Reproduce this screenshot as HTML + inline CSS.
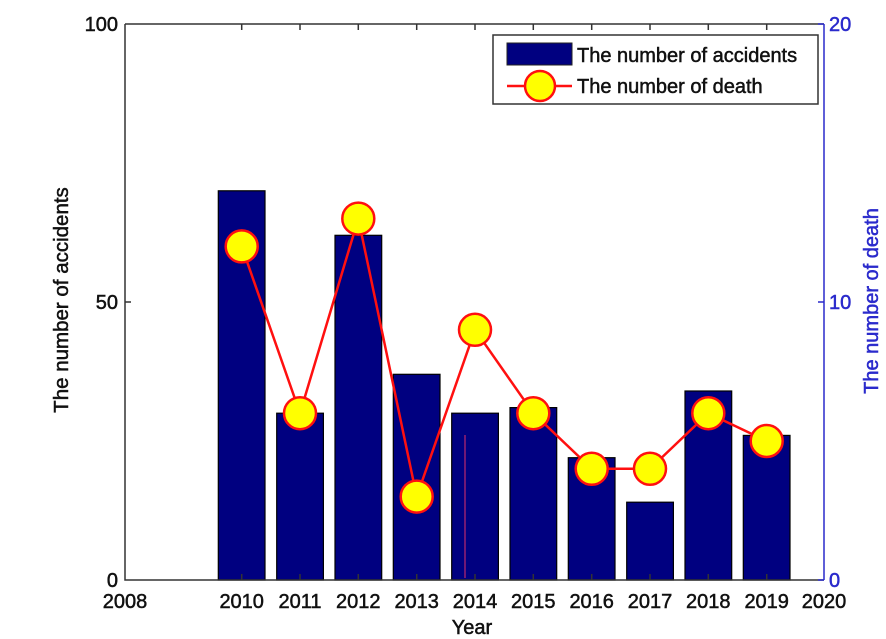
<!DOCTYPE html>
<html><head><meta charset="utf-8"><style>body{margin:0;background:#fff}svg{display:block}text{font-family:"Liberation Sans",Arial,sans-serif;stroke-width:0.5}</style></head>
<body>
<svg width="886" height="639" xmlns="http://www.w3.org/2000/svg">
<rect width="886" height="639" fill="#fff"/>
<g fill="#000080" stroke="#000" stroke-width="1.2">
<rect x="218.3" y="190.8" width="46.7" height="389.2"/>
<rect x="276.7" y="413.2" width="46.7" height="166.8"/>
<rect x="335" y="235.3" width="46.7" height="344.7"/>
<rect x="393.3" y="374.3" width="46.7" height="205.7"/>
<rect x="451.7" y="413.2" width="46.7" height="166.8"/>
<rect x="510" y="407.6" width="46.7" height="172.4"/>
<rect x="568.3" y="457.7" width="46.7" height="122.3"/>
<rect x="626.7" y="502.2" width="46.7" height="77.8"/>
<rect x="685" y="391" width="46.7" height="189"/>
<rect x="743.3" y="435.4" width="46.7" height="144.6"/>
</g>
<line x1="465" y1="435" x2="465" y2="578" stroke="#e0306a" stroke-width="1"/>
<g stroke="#333" stroke-width="1.5" fill="none">
<path d="M125,24 H824 M125,24 V580 H824"/>
<path d="M125,302 h6"/>
<path d="M241.7,24v6M300,24v6M358.3,24v6M416.7,24v6M475,24v6M533.3,24v6M591.7,24v6M650,24v6M708.3,24v6M766.7,24v6"/>
<path d="M241.7,580v-6M300,580v-6M358.3,580v-6M416.7,580v-6M475,580v-6M533.3,580v-6M591.7,580v-6M650,580v-6M708.3,580v-6M766.7,580v-6"/>
</g>
<g stroke="#2a2acc" stroke-width="1.5" fill="none">
<path d="M824,24 V580"/>
<path d="M818,24h6M818,302h6M818,580h6"/>
</g>
<g font-size="20" fill="#111" stroke="#111" text-anchor="end">
<text x="118" y="31">100</text>
<text x="118" y="309">50</text>
<text x="118" y="587">0</text>
</g>
<g font-size="20" fill="#2a2acc" stroke="#2a2acc">
<text x="829" y="31">20</text>
<text x="829" y="309">10</text>
<text x="829" y="587">0</text>
</g>
<g font-size="20" fill="#111" stroke="#111" text-anchor="middle">
<text x="125" y="608">2008</text>
<text x="241.7" y="608">2010</text>
<text x="300" y="608">2011</text>
<text x="358.3" y="608">2012</text>
<text x="416.7" y="608">2013</text>
<text x="475" y="608">2014</text>
<text x="533.3" y="608">2015</text>
<text x="591.7" y="608">2016</text>
<text x="650" y="608">2017</text>
<text x="708.3" y="608">2018</text>
<text x="766.7" y="608">2019</text>
<text x="824" y="608">2020</text>
<text x="472" y="634">Year</text>
<text transform="translate(68,300) rotate(-90)" font-size="20.5">The number of accidents</text>
<text transform="translate(878,301) rotate(-90)" font-size="20" fill="#2a2acc" stroke="#2a2acc">The number of death</text>
</g>
<polyline fill="none" stroke="#ff1010" stroke-width="2.5" points="241.7,246.4 300,413.2 358.3,218.6 416.7,496.6 475,329.8 533.3,413.2 591.7,468.8 650,468.8 708.3,413.2 766.7,441"/>
<g fill="#ffff00" stroke="#ff1010" stroke-width="2.5">
<circle cx="241.7" cy="246.4" r="16"/><circle cx="300" cy="413.2" r="16"/><circle cx="358.3" cy="218.6" r="16"/><circle cx="416.7" cy="496.6" r="16"/><circle cx="475" cy="329.8" r="16"/><circle cx="533.3" cy="413.2" r="16"/><circle cx="591.7" cy="468.8" r="16"/><circle cx="650" cy="468.8" r="16"/><circle cx="708.3" cy="413.2" r="16"/><circle cx="766.7" cy="441" r="16"/>
</g>
<rect x="493" y="35" width="325" height="69" fill="#fff" stroke="#333" stroke-width="1.5"/>
<rect x="507" y="43" width="65" height="22" fill="#000080" stroke="#222"/>
<line x1="507" y1="86" x2="572" y2="86" stroke="#ff1010" stroke-width="2.5"/>
<circle cx="540" cy="86" r="15" fill="#ffff00" stroke="#ff1010" stroke-width="2.5"/>
<g font-size="20" fill="#111" stroke="#111">
<text x="577" y="62">The number of accidents</text>
<text x="577" y="93">The number of death</text>
</g>
</svg>
</body></html>
